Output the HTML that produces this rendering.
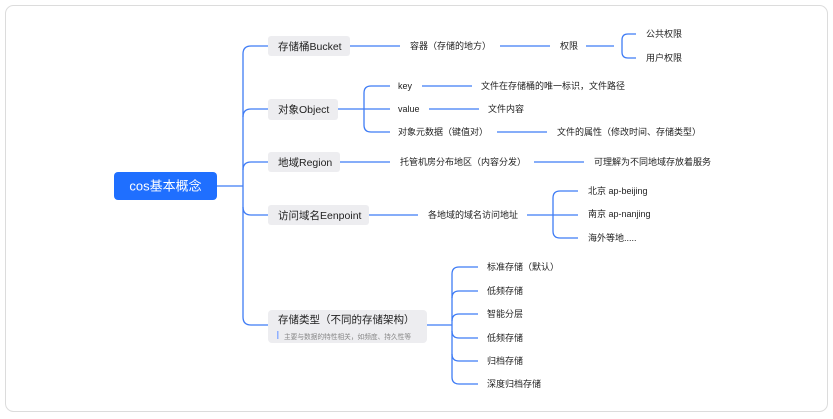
<!DOCTYPE html>
<html><head><meta charset="utf-8"><style>
html,body{margin:0;padding:0;background:#fff;}
svg{display:block;font-family:"Liberation Sans","Noto Sans CJK SC",sans-serif;}
</style></head><body>
<svg width="833" height="419" viewBox="0 0 833 419">
<rect x="5.5" y="5.5" width="822" height="406" rx="8" fill="#fff" stroke="#dcdcdc"/>
<g fill="none" stroke="#3f7cf5" stroke-width="1.3">
<path d="M217 186 H243"/>
<path d="M268 46 H251 Q243 46 243 54 V317 Q243 325 251 325 H268"/>
<path d="M243 117 Q243 109 251 109 H268"/>
<path d="M243 170 Q243 162 251 162 H268"/>
<path d="M243 207 Q243 215 251 215 H268"/>
<path d="M350 46 H400 M500 46 H550 M586 46 H614"/>
<path d="M636 34 H628 Q622 34 622 40 V52 Q622 58 628 58 H636"/>
<path d="M338 109 H390"/>
<path d="M390 86 H371 Q364 86 364 93 V125 Q364 132 371 132 H390"/>
<path d="M422 86 H472 M429 109 H479 M497 132 H547"/>
<path d="M340 162 H390 M534 162 H584"/>
<path d="M369 215 H418 M527 215 H578"/>
<path d="M578 191 H560 Q553 191 553 198 V231 Q553 238 560 238 H578"/>
<path d="M427 325 H452"/>
<path d="M478 267 H459 Q452 267 452 274 V377 Q452 384 459 384 H478"/>
<path d="M452 298 Q452 291 459 291 H478 M452 321 Q452 314 459 314 H478 M452 331 Q452 338 459 338 H478 M452 354 Q452 361 459 361 H478"/>
</g>
<rect x="114" y="172" width="103" height="28" rx="4" fill="#1f6fff"/>
<text x="165.5" y="190.5" fill="#fff" font-size="13" text-anchor="middle">cos基本概念</text>
<g fill="#ededf0">
<rect x="268" y="36" width="82" height="20" rx="3"/>
<rect x="268" y="99" width="70" height="21" rx="3"/>
<rect x="268" y="152" width="72" height="20" rx="3"/>
<rect x="268" y="205" width="101" height="20" rx="3"/>
<rect x="268" y="310" width="159" height="33" rx="4"/>
</g>
<rect x="277" y="331" width="1.5" height="8" fill="#8fb0ff"/>
<g fill="#222" font-size="10.5">
<text x="278" y="50">存储桶Bucket</text>
<text x="278" y="113">对象Object</text>
<text x="278" y="166">地域Region</text>
<text x="278" y="219">访问域名Eenpoint</text>
<text x="278" y="323">存储类型（不同的存储架构）</text>
</g>
<text x="284" y="339" font-size="6.7" fill="#888">主要与数据的特性相关，如频度、持久性等</text>
<g fill="#222" font-size="9">
<text x="410" y="49">容器（存储的地方）</text>
<text x="560" y="49">权限</text>
<text x="646" y="37">公共权限</text>
<text x="646" y="61">用户权限</text>
<text x="398" y="89">key</text>
<text x="481" y="89">文件在存储桶的唯一标识，文件路径</text>
<text x="398" y="112">value</text>
<text x="488" y="112">文件内容</text>
<text x="398" y="135">对象元数据（键值对）</text>
<text x="557" y="135">文件的属性（修改时间、存储类型）</text>
<text x="400" y="165">托管机房分布地区（内容分发）</text>
<text x="594" y="165">可理解为不同地域存放着服务</text>
<text x="428" y="218">各地域的域名访问地址</text>
<text x="588" y="194">北京 ap-beijing</text>
<text x="588" y="217">南京 ap-nanjing</text>
<text x="588" y="241">海外等地.....</text>
<text x="487" y="270">标准存储（默认）</text>
<text x="487" y="294">低频存储</text>
<text x="487" y="317">智能分层</text>
<text x="487" y="341">低频存储</text>
<text x="487" y="364">归档存储</text>
<text x="487" y="387">深度归档存储</text>
</g>
</svg>
</body></html>
